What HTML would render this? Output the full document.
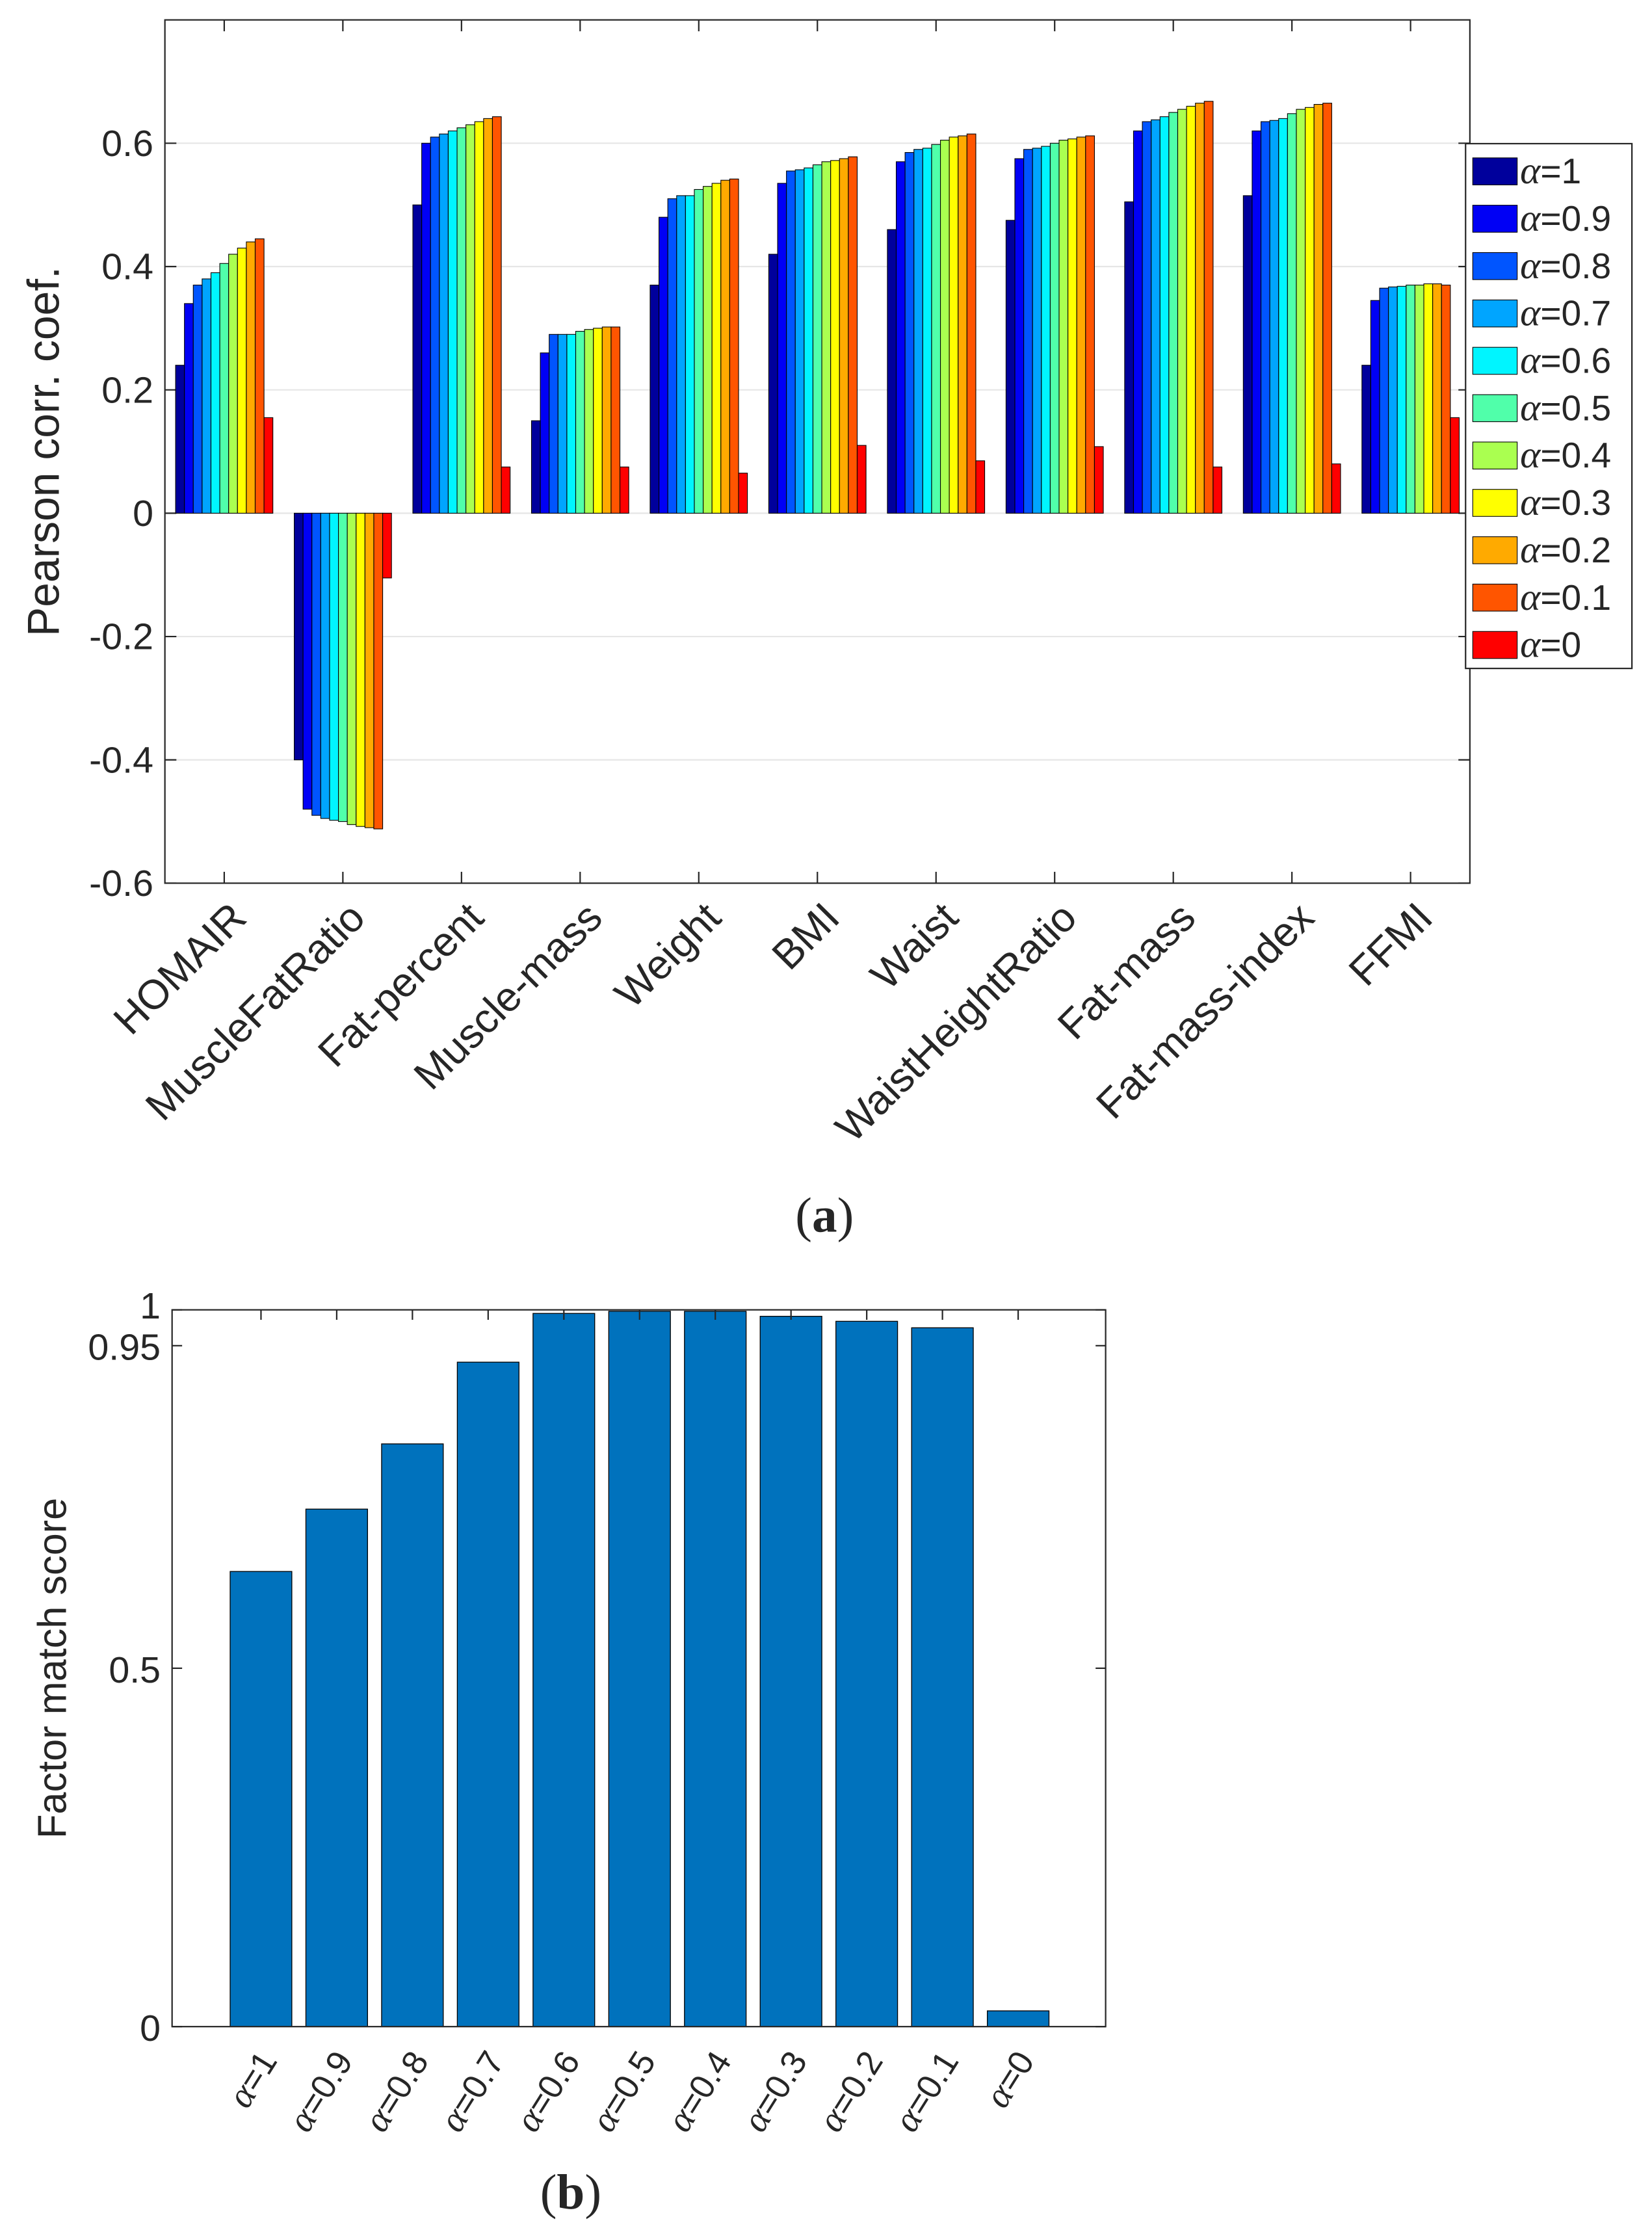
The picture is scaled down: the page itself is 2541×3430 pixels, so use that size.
<!DOCTYPE html>
<html><head><meta charset="utf-8">
<style>
html,body{margin:0;padding:0;background:#fff;}
svg{display:block;}
text{font-family:"Liberation Sans",sans-serif;fill:#262626;}
.ser{font-family:"Liberation Serif",serif;}
</style></head>
<body>
<svg id="fig" width="2541" height="3430" viewBox="0 0 1152 1568" preserveAspectRatio="none" xmlns="http://www.w3.org/2000/svg">
<g id="chartA"></g>
<g id="chartB"></g>
</svg>
<script>
// ---------- Chart A data ----------
const categoriesA = ["HOMAIR","MuscleFatRatio","Fat-percent","Muscle-mass","Weight","BMI","Waist","WaistHeightRatio","Fat-mass","Fat-mass-index","FFMI"];
const seriesNames = ["1","0.9","0.8","0.7","0.6","0.5","0.4","0.3","0.2","0.1","0"];
const valHOMAIR = [0.24,0.34,0.37,0.38,0.39,0.405,0.42,0.43,0.44,0.445,0.155];
const valMuscleFatRatio = [-0.40,-0.48,-0.49,-0.495,-0.498,-0.50,-0.505,-0.508,-0.51,-0.512,-0.105];
const valFatPercent = [0.50,0.60,0.61,0.615,0.62,0.625,0.63,0.635,0.64,0.643,0.075];
const valMuscleMass = [0.15,0.26,0.29,0.29,0.29,0.295,0.298,0.30,0.302,0.302,0.075];
const valWeight = [0.37,0.48,0.51,0.515,0.515,0.525,0.53,0.535,0.54,0.542,0.065];
const valBMI = [0.42,0.535,0.555,0.557,0.56,0.565,0.57,0.572,0.575,0.578,0.11];
const valWaist = [0.46,0.57,0.585,0.59,0.592,0.598,0.605,0.61,0.612,0.615,0.085];
const valWHR = [0.475,0.575,0.59,0.592,0.595,0.60,0.605,0.607,0.61,0.612,0.108];
const valFatMass = [0.505,0.62,0.635,0.638,0.643,0.65,0.655,0.66,0.665,0.668,0.075];
const valFMI = [0.515,0.62,0.635,0.637,0.64,0.648,0.655,0.658,0.663,0.665,0.08];
const valFFMI = [0.24,0.345,0.365,0.367,0.368,0.37,0.37,0.372,0.372,0.37,0.155];
const yTicksA = [-0.6,-0.4,-0.2,0,0.2,0.4,0.6];
const yTickLabelsA = ["-0.6","-0.4","-0.2","0","0.2","0.4","0.6"];
// ---------- Chart B data ----------
const categoriesB = ["1","0.9","0.8","0.7","0.6","0.5","0.4","0.3","0.2","0.1","0"];
const scoresB = [0.635,0.722,0.813,0.927,0.995,0.998,0.998,0.991,0.984,0.975,0.022];
const yTicksB = [0,0.5,0.95,1];
const yTickLabelsB = ["0","0.5","0.95","1"];

const jet = ['#00009c','#0000f5','#0055ff','#00a5ff','#00f5ff','#50ffaa','#aaff50','#ffff00','#ffaa00','#ff5500','#ff0000'];
const NS = "http://www.w3.org/2000/svg";
function mk(tag, attrs, parent, txt){
  const e = document.createElementNS(NS, tag);
  for (const k in attrs) e.setAttribute(k, attrs[k]);
  if (txt !== undefined) e.textContent = txt;
  parent.appendChild(e);
  return e;
}
// ===== Chart A =====
(function(){
  const g = document.getElementById('chartA');
  const L=115,R=1025,T=14,B=621, yMin=-0.6, yMax=0.8;
  const y = v => B - (v - yMin)/(yMax - yMin)*(B-T);
  const catW = (R-L)/categoriesA.length;
  const xc = i => L + (i+0.5)*catW;
  const allVals = [valHOMAIR,valMuscleFatRatio,valFatPercent,valMuscleMass,valWeight,valBMI,valWaist,valWHR,valFatMass,valFMI,valFFMI];
  mk('rect',{x:L,y:T,width:R-L,height:B-T,fill:'#fff',stroke:'none'},g);
  yTicksA.forEach((t,i)=>{
    const gl = mk('line',{x1:L,x2:R,y1:y(t),y2:y(t),stroke:'#e6e6e6','stroke-width':1},g);
    
    
    mk('line',{x1:L,x2:L+8,y1:y(t),y2:y(t),stroke:'#262626','stroke-width':1},g);
    mk('line',{x1:R-8,x2:R,y1:y(t),y2:y(t),stroke:'#262626','stroke-width':1},g);
    const tl = mk('text',{x:L-8,y:y(t)+9,'text-anchor':'end','font-size':26},g,yTickLabelsA[i]);
    
    
  });
  const groupW = catW*0.82, bw = groupW/11;
  allVals.forEach((vals,ci)=>{
    const x0 = xc(ci) - groupW/2;
    vals.forEach((v,si)=>{
      const top = Math.min(y(v), y(0)), h = Math.abs(y(v)-y(0));
      const r = mk('rect',{x:x0+si*bw,y:top,width:bw,height:h,fill:jet[si],stroke:'#000','stroke-width':0.5},g);
      
      
    });
    mk('line',{x1:xc(ci),x2:xc(ci),y1:B,y2:B-8,stroke:'#262626'},g);
    mk('line',{x1:xc(ci),x2:xc(ci),y1:T,y2:T+8,stroke:'#262626'},g);
    const xl = mk('text',{x:0,y:0,'text-anchor':'end','font-size':29,transform:`translate(${xc(ci)+17},${B+26}) rotate(-45)`},g,categoriesA[ci]);
    
    
  });
  mk('rect',{x:L,y:T,width:R-L,height:B-T,fill:'none',stroke:'#262626','stroke-width':1},g);
  const yt = mk('text',{x:0,y:0,'text-anchor':'middle','font-size':31,transform:`translate(41,${(T+B)/2}) rotate(-90)`},g,'Pearson corr. coef.');
  
  
  // legend
  const lg = mk('g',{},g);
  
  
  mk('rect',{x:1022,y:101,width:116,height:369,fill:'#fff',stroke:'#262626','stroke-width':1},lg);
  seriesNames.forEach((s,i)=>{
    const cy = 120 + i*33.3;
    const e = mk('g',{},lg);
    
    
    mk('rect',{x:1027,y:cy-9,width:31,height:19,fill:jet[i],stroke:'#000','stroke-width':0.5},e);
    const t = mk('text',{x:1060,y:cy+9,'font-size':25},e);
    mk('tspan',{'font-style':'italic','class':'ser','font-size':27},t,'α');
    mk('tspan',{},t,'='+s);
  });
  const cap = mk('text',{x:575,y:866,'text-anchor':'middle','font-size':35,'class':'ser'},g);
  mk('tspan',{},cap,'(');
  mk('tspan',{'font-weight':'bold'},cap,'a');
  mk('tspan',{},cap,')');
  
  
})();
// ===== Chart B =====
(function(){
  const g = document.getElementById('chartB');
  const L=120,R=771,T=921,B=1425, yMin=0, yMax=1;
  const y = v => B - (v-yMin)/(yMax-yMin)*(B-T);
  const step = 52.8, first = 182;
  const xc = i => first + i*step;
  const bw = 43;
  yTicksB.forEach((t,i)=>{
    mk('line',{x1:L,x2:L+7,y1:y(t),y2:y(t),stroke:'#262626'},g);
    mk('line',{x1:R-7,x2:R,y1:y(t),y2:y(t),stroke:'#262626'},g);
    const tl = mk('text',{x:L-8,y:y(t)+10 + (t===1?-4:0),'text-anchor':'end','font-size':26},g,yTickLabelsB[i]);
    
    
  });
  scoresB.forEach((v,i)=>{
    const r = mk('rect',{x:xc(i)-bw/2,y:y(v),width:bw,height:B-y(v),fill:'#0072bd',stroke:'#000','stroke-width':0.6},g);
    
    
    mk('line',{x1:xc(i),x2:xc(i),y1:T,y2:T+7,stroke:'#262626'},g);
    const xl = mk('text',{x:0,y:0,'text-anchor':'end','font-size':24,transform:`translate(${xc(i)+12},${B+24}) rotate(-58)`},g);
    mk('tspan',{'font-style':'italic','class':'ser','font-size':26},xl,'α');
    mk('tspan',{},xl,'='+categoriesB[i]);
    
    
  });
  mk('rect',{x:L,y:T,width:R-L,height:B-T,fill:'none',stroke:'#262626','stroke-width':1},g);
  const yt = mk('text',{x:0,y:0,'text-anchor':'middle','font-size':28,transform:`translate(46,${(T+B)/2}) rotate(-90)`},g,'Factor match score');
  
  
  const cap = mk('text',{x:398,y:1553,'text-anchor':'middle','font-size':35,'class':'ser'},g);
  mk('tspan',{},cap,'(');
  mk('tspan',{'font-weight':'bold'},cap,'b');
  mk('tspan',{},cap,')');
  
  
})();
</script>
</body></html>
